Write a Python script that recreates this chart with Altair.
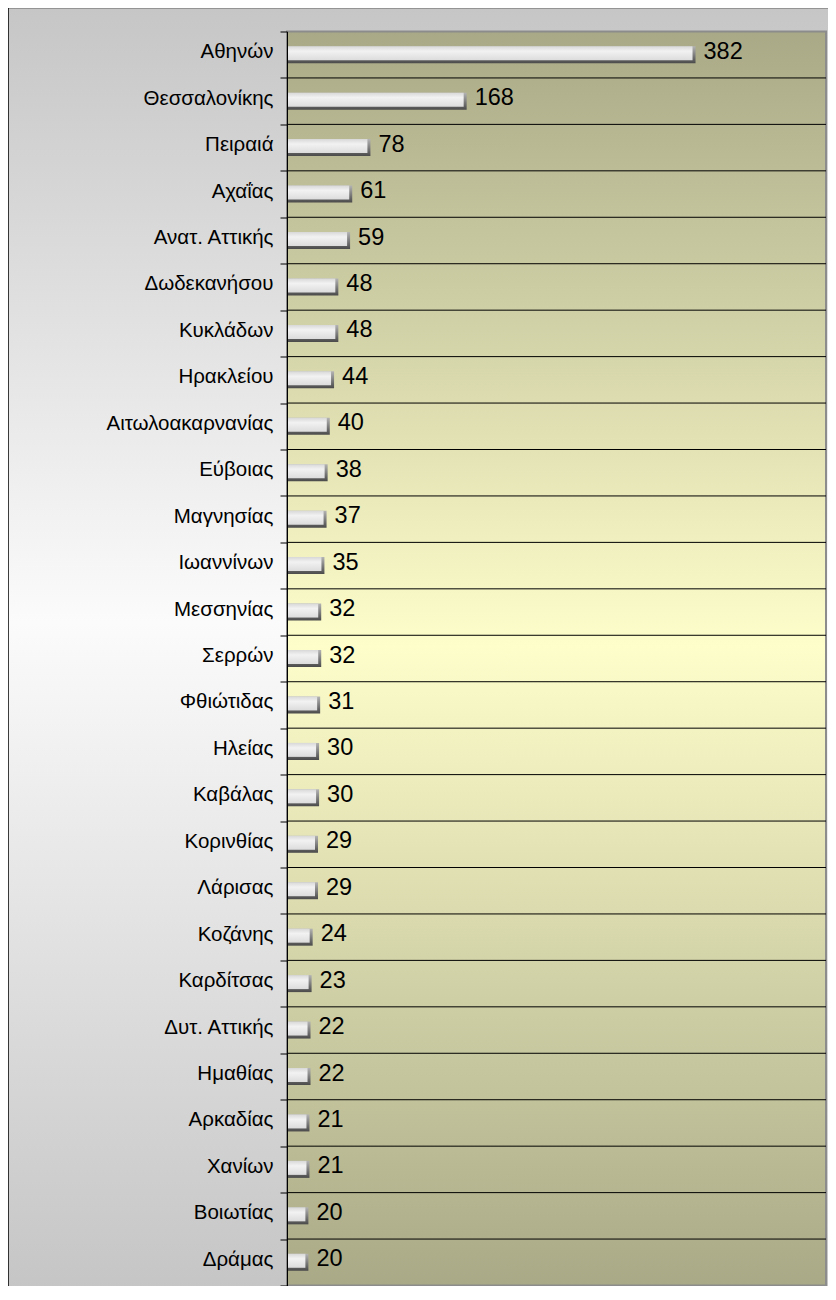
import altair as alt
import pandas as pd

names = ["Αθηνών", "Θεσσαλονίκης", "Πειραιά", "Αχαΐας", "Ανατ. Αττικής", "Δωδεκανήσου",
         "Κυκλάδων", "Ηρακλείου", "Αιτωλοακαρνανίας", "Εύβοιας", "Μαγνησίας", "Ιωαννίνων",
         "Μεσσηνίας", "Σερρών", "Φθιώτιδας", "Ηλείας", "Καβάλας", "Κορινθίας", "Λάρισας",
         "Κοζάνης", "Καρδίτσας", "Δυτ. Αττικής", "Ημαθίας", "Αρκαδίας", "Χανίων",
         "Βοιωτίας", "Δράμας"]
values = [382, 168, 78, 61, 59, 48, 48, 44, 40, 38, 37, 35, 32, 32, 31, 30, 30, 29, 29,
          24, 23, 22, 22, 21, 21, 20, 20]

df = pd.DataFrame({"name": names, "value": values})
df["zero"] = 0

W, H = 539, 1254

yscale = alt.Scale(domain=names, paddingInner=0, paddingOuter=0)
xscale = alt.Scale(domain=[0, 504], nice=False, zero=True)
yaxis = alt.Axis(title=None, grid=False, domainColor="black", domainWidth=1,
                 tickColor="black", tickSize=7, tickBand="extent", labelFont="Liberation Sans",
                 labelFontSize=20.5, labelColor="black", labelPadding=7, labelOffset=-3,
                 zindex=1)

one = pd.DataFrame({"a": [0]})

outer_grad = {"gradient": "linear", "x1": 0, "y1": 0, "x2": 0, "y2": 1,
              "stops": [{"offset": 0, "color": "#c6c6c6"},
                        {"offset": 0.47, "color": "#fbfbfb"},
                        {"offset": 1, "color": "#c3c3c3"}]}
plot_grad = {"gradient": "linear", "x1": 0, "y1": 0, "x2": 0, "y2": 1,
             "stops": [{"offset": 0, "color": "#a9a987"},
                       {"offset": 0.49, "color": "#fefecb"},
                       {"offset": 1, "color": "#a9a987"}]}
dark_grad = {"gradient": "linear", "x1": 0, "y1": 0, "x2": 0, "y2": 1,
             "stops": [{"offset": 0, "color": "#b4b4b4"},
                       {"offset": 1, "color": "#4a4a4a"}]}
light_grad = {"gradient": "linear", "x1": 0, "y1": 0, "x2": 0, "y2": 1,
              "stops": [{"offset": 0, "color": "#d8d8d8"},
                        {"offset": 0.35, "color": "#f2f2f2"},
                        {"offset": 1, "color": "#dcdcdc"}]}

outer = alt.Chart(one).mark_rect(fill=outer_grad, stroke="black", strokeWidth=1.5).encode(
    x=alt.value(-279), x2=alt.value(W + 20), y=alt.value(-24), y2=alt.value(H + 30))

plotbg = alt.Chart(one).mark_rect(fill=plot_grad, stroke="#8c8c8c", strokeWidth=2).encode(
    x=alt.value(0), x2=alt.value(W), y=alt.value(0), y2=alt.value(H))

base = alt.Chart(df)

seps = base.transform_filter(alt.datum.name != names[0]).mark_rule(
    color="black", strokeWidth=1).encode(
    y=alt.Y("name:N", sort=names, scale=yscale, axis=yaxis, bandPosition=0))

dark = base.mark_bar(size=17, fill=dark_grad).encode(
    y=alt.Y("name:N", sort=names, scale=yscale, axis=yaxis),
    x=alt.X("zero:Q", scale=xscale, axis=None),
    x2="value:Q")

light = base.mark_bar(size=14, yOffset=-1.5, x2Offset=-3, fill=light_grad).encode(
    y=alt.Y("name:N", sort=names, scale=yscale, axis=yaxis),
    x=alt.X("zero:Q", scale=xscale, axis=None),
    x2="value:Q")

labels = base.mark_text(align="left", baseline="middle", dx=8, dy=-3,
                        font="Liberation Sans", fontSize=23.5, color="black").encode(
    y=alt.Y("name:N", sort=names, scale=yscale, axis=yaxis),
    x=alt.X("value:Q", scale=xscale, axis=None),
    text="value:Q")

chart = alt.layer(outer, plotbg, seps, dark, light, labels).properties(
    width=W, height=H,
    autosize="none",
    padding={"left": 279, "top": 23.5, "right": 2, "bottom": 0},
).configure_view(stroke=None)

chart.save("out.html", embed_options={"renderer": "svg", "actions": False})
